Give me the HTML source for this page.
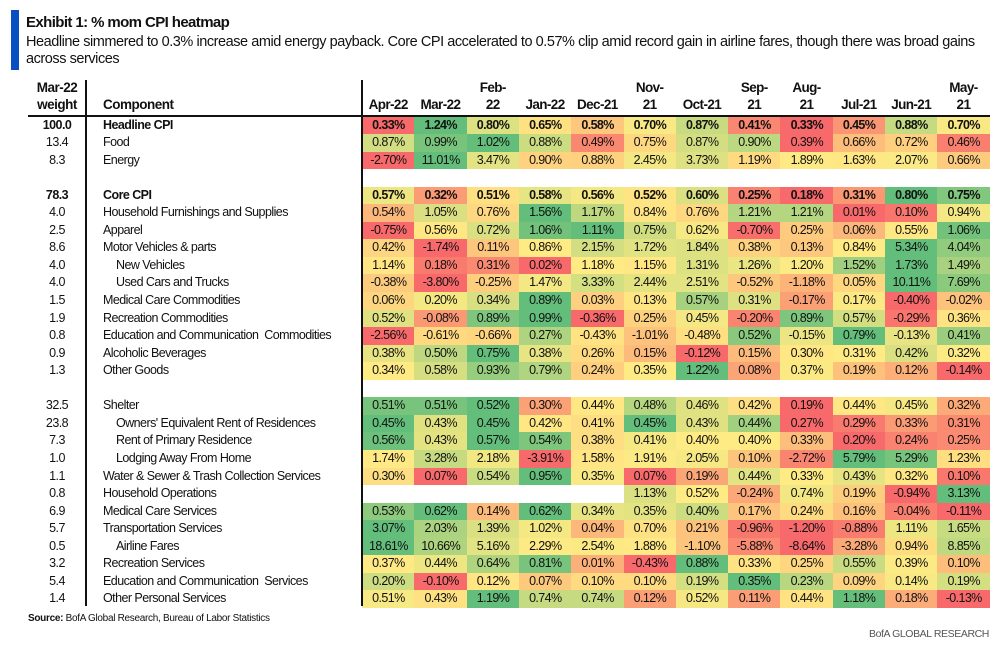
<!DOCTYPE html>
<html><head><meta charset="utf-8">
<style>
body{margin:0;background:#fff;width:999px;height:647px;overflow:hidden;position:relative;font-family:"Liberation Sans",sans-serif;color:#111}
.a{position:absolute;white-space:nowrap}
.cell{position:absolute;text-align:center;font-size:12.5px;letter-spacing:-0.6px;line-height:17.6px;height:17.6px}
.lbl{letter-spacing:-0.55px;font-size:12.5px}
</style></head><body>
<div class="a" style="left:11px;top:10px;width:8px;height:60px;background:#0a4fc1"></div>
<div class="a" style="left:26px;top:14px;font-size:15px;font-weight:bold;letter-spacing:-0.6px">Exhibit 1: % mom CPI heatmap</div>
<div class="a" style="left:26px;top:34px;font-size:14.5px;line-height:17px;letter-spacing:-0.45px">Headline simmered to 0.3% increase amid energy payback. Core CPI accelerated to 0.57% clip amid record gain in airline fares, though there was broad gains<br>across services</div>
<div class="a" style="left:28px;top:79px;width:58px;text-align:center;font-weight:bold;font-size:13.5px;letter-spacing:-0.5px;line-height:17px">Mar-22<br>weight</div>
<div class="a" style="left:103px;top:96px;font-weight:bold;font-size:13.5px;letter-spacing:-0.5px;line-height:17px">Component</div>
<div id="hdr"></div>
<div class="a" style="left:28px;top:115px;width:962px;height:2px;background:#111"></div>
<div id="tbl"></div>
<div class="a" style="left:85px;top:80px;width:1.5px;height:526px;background:#111;z-index:2"></div>
<div class="a" style="left:361px;top:80px;width:1.5px;height:526px;background:#111;z-index:2"></div>
<div class="a" style="left:28px;top:613px;font-size:10px;letter-spacing:-0.3px"><b>Source:</b> BofA Global Research, Bureau of Labor Statistics</div>
<div class="a" style="right:10px;top:628px;font-size:10.5px;letter-spacing:-0.4px;color:#555">BofA GLOBAL RESEARCH</div>
<script>
const months=["Apr-22","Mar-22","Feb-\n22","Jan-22","Dec-21","Nov-\n21","Oct-21","Sep-\n21","Aug-\n21","Jul-21","Jun-21","May-\n21"];
const weights=["100.0","13.4","8.3","","78.3","4.0","2.5","8.6","4.0","4.0","1.5","1.9","0.8","0.9","1.3","","32.5","23.8","7.3","1.0","1.1","0.8","6.9","5.7","0.5","3.2","5.4","1.4"];
const names=["Headline CPI","Food","Energy","","Core CPI","Household Furnishings and Supplies","Apparel","Motor Vehicles & parts","New Vehicles","Used Cars and Trucks","Medical Care Commodities","Recreation Commodities","Education and Communication  Commodities","Alcoholic Beverages","Other Goods","","Shelter","Owners' Equivalent Rent of Residences","Rent of Primary Residence","Lodging Away From Home","Water & Sewer & Trash Collection Services","Household Operations","Medical Care Services","Transportation Services","Airline Fares","Recreation Services","Education and Communication  Services","Other Personal Services"];
const indent=[0,0,0,0,0,0,0,0,1,1,0,0,0,0,0,0,0,1,1,1,0,0,0,0,1,0,0,0];
const boldRows=[0,4];
const values=[
[0.33,1.24,0.80,0.65,0.58,0.70,0.87,0.41,0.33,0.45,0.88,0.70],
[0.87,0.99,1.02,0.88,0.49,0.75,0.87,0.90,0.39,0.66,0.72,0.46],
[-2.70,11.01,3.47,0.90,0.88,2.45,3.73,1.19,1.89,1.63,2.07,0.66],
null,
[0.57,0.32,0.51,0.58,0.56,0.52,0.60,0.25,0.18,0.31,0.80,0.75],
[0.54,1.05,0.76,1.56,1.17,0.84,0.76,1.21,1.21,0.01,0.10,0.94],
[-0.75,0.56,0.72,1.06,1.11,0.75,0.62,-0.70,0.25,0.06,0.55,1.06],
[0.42,-1.74,0.11,0.86,2.15,1.72,1.84,0.38,0.13,0.84,5.34,4.04],
[1.14,0.18,0.31,0.02,1.18,1.15,1.31,1.26,1.20,1.52,1.73,1.49],
[-0.38,-3.80,-0.25,1.47,3.33,2.44,2.51,-0.52,-1.18,0.05,10.11,7.69],
[0.06,0.20,0.34,0.89,0.03,0.13,0.57,0.31,-0.17,0.17,-0.40,-0.02],
[0.52,-0.08,0.89,0.99,-0.36,0.25,0.45,-0.20,0.89,0.57,-0.29,0.36],
[-2.56,-0.61,-0.66,0.27,-0.43,-1.01,-0.48,0.52,-0.15,0.79,-0.13,0.41],
[0.38,0.50,0.75,0.38,0.26,0.15,-0.12,0.15,0.30,0.31,0.42,0.32],
[0.34,0.58,0.93,0.79,0.24,0.35,1.22,0.08,0.37,0.19,0.12,-0.14],
null,
[0.51,0.51,0.52,0.30,0.44,0.48,0.46,0.42,0.19,0.44,0.45,0.32],
[0.45,0.43,0.45,0.42,0.41,0.45,0.43,0.44,0.27,0.29,0.33,0.31],
[0.56,0.43,0.57,0.54,0.38,0.41,0.40,0.40,0.33,0.20,0.24,0.25],
[1.74,3.28,2.18,-3.91,1.58,1.91,2.05,0.10,-2.72,5.79,5.29,1.23],
[0.30,0.07,0.54,0.95,0.35,0.07,0.19,0.44,0.33,0.43,0.32,0.10],
[null,null,null,null,null,1.13,0.52,-0.24,0.74,0.19,-0.94,3.13],
[0.53,0.62,0.14,0.62,0.34,0.35,0.40,0.17,0.24,0.16,-0.04,-0.11],
[3.07,2.03,1.39,1.02,0.04,0.70,0.21,-0.96,-1.20,-0.88,1.11,1.65],
[18.61,10.66,5.16,2.29,2.54,1.88,-1.10,-5.88,-8.64,-3.28,0.94,8.85],
[0.37,0.44,0.64,0.81,0.01,-0.43,0.88,0.33,0.25,0.55,0.39,0.10],
[0.20,-0.10,0.12,0.07,0.10,0.10,0.19,0.35,0.23,0.09,0.14,0.19],
[0.51,0.43,1.19,0.74,0.74,0.12,0.52,0.11,0.44,1.18,0.18,-0.13]
];
const X0=362,CW=52.3,Y0=116.5,RH=17.55;
const colX=i=>X0+i*CW, rowY=r=>Y0+r*RH;
const R=[248,105,107],Yl=[255,235,132],G=[99,190,123];
function mix(a,b,t){return 'rgb('+a.map((v,i)=>Math.round(v+(b[i]-v)*t)).join(',')+')';}
function colorFor(v,row){
 const s=row.filter(x=>x!==null).slice().sort((a,b)=>a-b);
 const mn=s[0],mx=s[s.length-1],n=s.length;
 const md=n%2?s[(n-1)/2]:(s[n/2-1]+s[n/2])/2;
 if(v<=md) return mix(R,Yl,md===mn?1:(v-mn)/(md-mn));
 return mix(Yl,G,mx===md?0:(v-md)/(mx-md));
}
const hdr=document.getElementById('hdr');
months.forEach((m,i)=>{
 const d=document.createElement('div');
 
 
 d.className='a';
 d.style.cssText=`left:${colX(i)}px;top:79px;width:${CW}px;height:34px;display:flex;align-items:flex-end;justify-content:center;text-align:center;font-weight:bold;font-size:13.5px;letter-spacing:-0.6px;line-height:17px;white-space:pre`;
 d.textContent=m;hdr.appendChild(d);
});
const tbl=document.getElementById('tbl');
names.forEach((nm,r)=>{
 if(!nm)return;
 const b=boldRows.includes(r);
 const w=document.createElement('div');
 
 
 w.className='cell lbl';w.style.left='28px';w.style.width='58px';w.style.top=rowY(r)+'px';
 w.style.fontWeight=b?'bold':'normal';w.textContent=weights[r];tbl.appendChild(w);
 const c=document.createElement('div');
 
 
 c.className='cell lbl';c.style.textAlign='left';c.style.left=(103+indent[r]*13)+'px';c.style.top=rowY(r)+'px';
 c.style.fontWeight=b?'bold':'normal';c.style.whiteSpace='pre';c.textContent=nm;tbl.appendChild(c);
 values[r].forEach((v,i)=>{
  if(v===null)return;
  const d=document.createElement('div');
  
  
  d.className='cell';
  d.style.left=colX(i)+'px';d.style.width=(CW+0.5)+'px';d.style.top=rowY(r)+'px';d.style.height=(RH+0.3)+'px';
  d.style.background=colorFor(v,values[r]);
  d.style.fontWeight=b?'bold':'normal';
  d.textContent=v.toFixed(2)+'%';tbl.appendChild(d);
 });
});
</script>
</body></html>
